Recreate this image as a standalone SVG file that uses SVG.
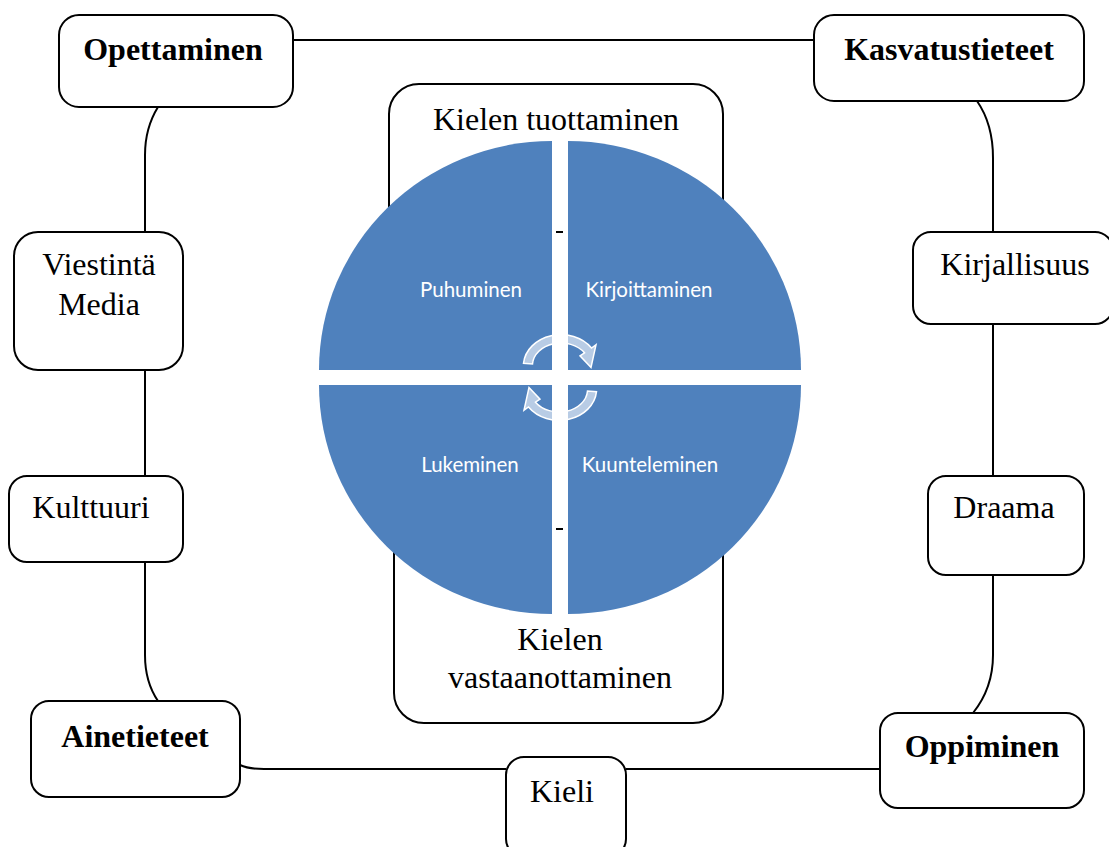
<svg xmlns="http://www.w3.org/2000/svg" width="1109" height="847" viewBox="0 0 1109 847">
<style>
.box{fill:#fff;stroke:#000;stroke-width:2}
.con{fill:none;stroke:#000;stroke-width:2}
.t{font-family:"Liberation Serif","Times New Roman",serif;font-size:32px;fill:#000;text-anchor:middle}
.b{font-weight:bold}
.q{fill:#4F81BD}
.ql{font-family:Lato,"Open Sans",sans-serif;font-size:20.5px;fill:#fff;text-anchor:middle}
.arr{fill:#fff;fill-opacity:0.6;stroke:#fff;stroke-width:1.5}
</style>
<rect width="1109" height="847" fill="#fff"/>
<g id="connectors">
<path class="con" d="M293,40 L814,40"/>
<path class="con" d="M158,107 Q145,128 145,155 L145,232"/>
<path class="con" d="M145,370 L145,476"/>
<path class="con" d="M145,562 L145,655 Q145,682 158,701"/>
<path class="con" d="M240,765 Q248,769 264,769 L506,769"/>
<path class="con" d="M626,769 L880,769"/>
<path class="con" d="M973,713 Q993,688 993,655 L993,575"/>
<path class="con" d="M993,476 L993,324"/>
<path class="con" d="M993,232 L993,158 Q993,124 977,101"/>
</g>
<g id="opettaminen"><rect class="box" x="59" y="15" width="234" height="92" rx="20"/><text class="t b" x="173" y="60">Opettaminen</text></g>
<g id="kasvatustieteet"><rect class="box" x="814" y="15" width="270" height="86" rx="20"/><text class="t b" x="949" y="60">Kasvatustieteet</text></g>
<g id="viestinta"><rect class="box" x="14" y="232" width="169" height="138" rx="24"/><text class="t" x="99" y="275">Viestintä</text><text class="t" x="99" y="315">Media</text></g>
<g id="kulttuuri"><rect class="box" x="9" y="476" width="174" height="86" rx="18"/><text class="t" x="91" y="518">Kulttuuri</text></g>
<g id="kirjallisuus"><rect class="box" x="913" y="232" width="200" height="92" rx="18"/><text class="t" x="1015" y="275">Kirjallisuus</text></g>
<g id="draama"><rect class="box" x="928" y="476" width="156" height="99" rx="18"/><text class="t" x="1004" y="518">Draama</text></g>
<g id="ainetieteet"><rect class="box" x="31" y="701" width="209" height="96" rx="18"/><text class="t b" x="135" y="747">Ainetieteet</text></g>
<g id="oppiminen"><rect class="box" x="880" y="713" width="204" height="95" rx="18"/><text class="t b" x="982" y="757">Oppiminen</text></g>
<g id="kieli"><rect class="box" x="506" y="757" width="120" height="100" rx="18"/><text class="t" x="562" y="802">Kieli</text></g>
<g id="tuottaminen"><rect class="box" x="389" y="84" width="334" height="300" rx="30"/><text class="t" x="556" y="130">Kielen tuottaminen</text></g>
<g id="vastaanottaminen"><rect class="box" x="394" y="400" width="329" height="323" rx="30"/><text class="t" x="560" y="650">Kielen</text><text class="t" x="560" y="688">vastaanottaminen</text></g>
<g id="circle">
<rect x="310" y="370" width="500" height="15" fill="#fff"/>
<rect x="552" y="135" width="16" height="485" fill="#fff"/>
<path class="q" d="M552,370 L319,370 A233,229 0 0 1 552,141 Z"/>
<path class="q" d="M568,370 L568,141 A233,229 0 0 1 801,370 Z"/>
<path class="q" d="M552,385 L552,614 A233,229 0 0 1 319,385 Z"/>
<path class="q" d="M568,385 L801,385 A233,229 0 0 1 568,614 Z"/>
<path d="M556,232 H563 M556,529 H563" stroke="#000" stroke-width="2"/>
<text class="ql" x="471" y="297">Puhuminen</text>
<text class="ql" x="649" y="297">Kirjoittaminen</text>
<text class="ql" x="470" y="472">Lukeminen</text>
<text class="ql" x="650" y="472">Kuunteleminen</text>
<path id="arrTop" class="arr" d="M523.5,363.3 A37.5,31.5 0 0 1 591.5,348 L596,344.8 L591,367.5 L580,355.8 L584.5,352.8 A28.5,22.5 0 0 0 532.5,364 Z"/>
<path class="arr" transform="rotate(180 560 377.5)" d="M523.5,363.3 A37.5,31.5 0 0 1 591.5,348 L596,344.8 L591,367.5 L580,355.8 L584.5,352.8 A28.5,22.5 0 0 0 532.5,364 Z"/>
</g>
</svg>
